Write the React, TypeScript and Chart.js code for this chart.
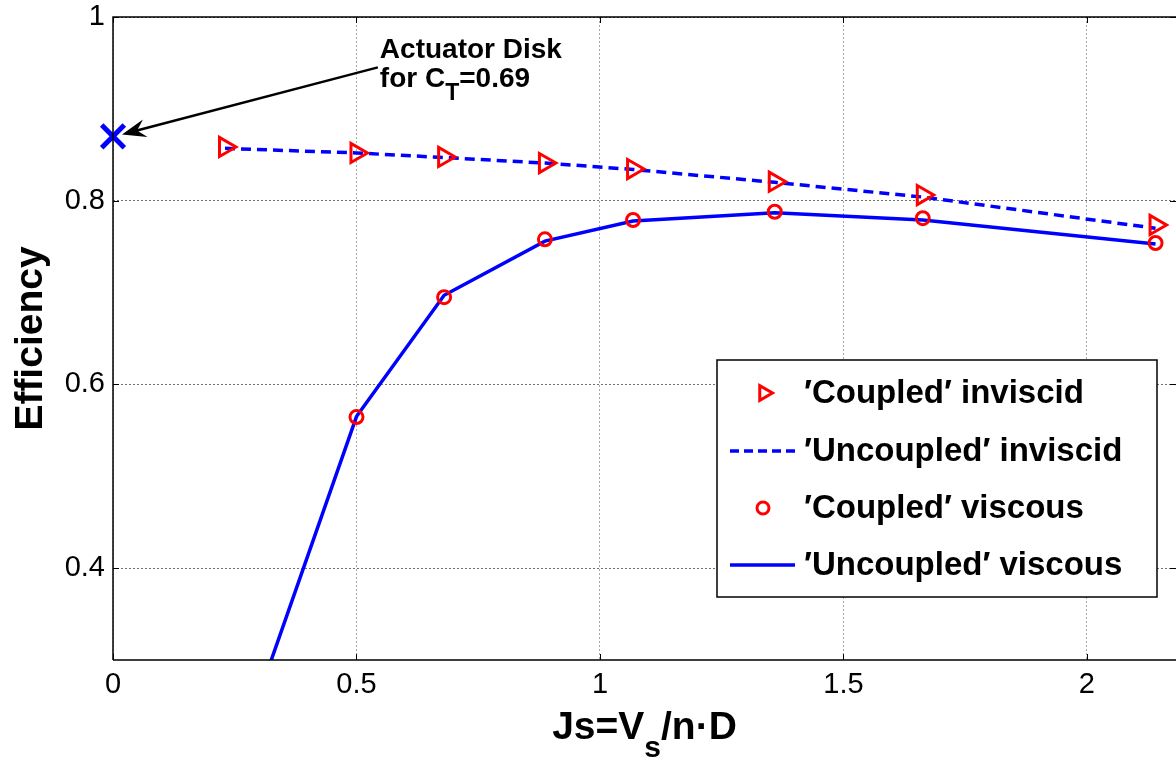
import React, { useEffect, useRef } from "react";
import { Chart, registerables } from "chart.js";

Chart.register(...registerables);

// ---- data ----
const jCoupledInviscid = [0.23, 0.5, 0.68, 0.887, 1.068, 1.359, 1.663, 2.141];
const effCoupledInviscid = [0.8585, 0.852, 0.8476, 0.841, 0.8345, 0.8207, 0.8062, 0.7736];

const jUncoupledInviscid = [0.23, 0.5, 0.68, 0.887, 1.068, 1.359, 1.663, 2.141];
const effUncoupledInviscid = [0.857, 0.852, 0.847, 0.841, 0.834, 0.82, 0.804, 0.77];

const jCoupledViscous = [0.5, 0.68, 0.887, 1.068, 1.359, 1.663, 2.141];
const effCoupledViscous = [0.5645, 0.695, 0.758, 0.779, 0.788, 0.781, 0.754];

const jUncoupledViscous = [0.23, 0.5, 0.68, 0.887, 1.068, 1.359, 1.663, 2.141];
const effUncoupledViscous = [0.156, 0.565, 0.697, 0.756, 0.778, 0.787, 0.779, 0.753];

const actuatorJ = [0];
const actuatorEff = [0.87];

const xTickValues = [0, 0.5, 1, 1.5, 2];
const yTickValues = [0.4, 0.6, 0.8, 1];
const xRange = [0, 2.183];
const yRange = [0.3, 1];

const legendLabels = [
  "\u2032Coupled\u2032 inviscid",
  "\u2032Uncoupled\u2032 inviscid",
  "\u2032Coupled\u2032 viscous",
  "\u2032Uncoupled\u2032 viscous",
];
const annotationLine1 = "Actuator Disk";
const annotationLine2 = ["for C", "T", "=0.69"];
const yTitle = "Efficiency";
const xTitleParts = ["Js=V", "s", "/n\u00B7D"];

const RED = "#ff0000";
const BLUE = "#0000ff";
const FONT = "'Liberation Sans', Arial, Helvetica, sans-serif";

const toPts = (xs: number[], ys: number[]) => xs.map((x, i) => ({ x, y: ys[i] }));

function drawTriangleRight(ctx: CanvasRenderingContext2D, x: number, y: number, r: number) {
  let rad = Math.PI / 2;
  ctx.beginPath();
  ctx.moveTo(x + Math.sin(rad) * r, y - Math.cos(rad) * r);
  rad += (2 * Math.PI) / 3;
  ctx.lineTo(x + Math.sin(rad) * r, y - Math.cos(rad) * r);
  rad += (2 * Math.PI) / 3;
  ctx.lineTo(x + Math.sin(rad) * r, y - Math.cos(rad) * r);
  ctx.closePath();
  ctx.stroke();
}

const framePlugin = {
  id: "framePlugin",
  afterDatasetsDraw(chart: any) {
    const ctx: CanvasRenderingContext2D = chart.ctx;
    const { left, right, top, bottom } = chart.chartArea;
    const xs = chart.scales.x;
    const ys = chart.scales.y;
    ctx.save();
    // frame
    ctx.strokeStyle = "#000";
    ctx.lineWidth = 1.5;
    ctx.beginPath();
    ctx.moveTo(left, bottom);
    ctx.lineTo(left, top);
    ctx.lineTo(right + 2, top);
    ctx.moveTo(left, bottom);
    ctx.lineTo(right + 2, bottom);
    ctx.stroke();
    // inward ticks
    ctx.lineWidth = 1;
    ctx.beginPath();
    xTickValues.forEach((v) => {
      const px = Math.round(xs.getPixelForValue(v)) + 0.5;
      ctx.moveTo(px, bottom);
      ctx.lineTo(px, bottom - 6);
      ctx.moveTo(px, top);
      ctx.lineTo(px, top + 6);
    });
    yTickValues.forEach((v) => {
      const py = Math.round(ys.getPixelForValue(v)) + 0.5;
      ctx.moveTo(left, py);
      ctx.lineTo(left + 6, py);
      ctx.moveTo(right, py);
      ctx.lineTo(right - 6, py);
    });
    ctx.stroke();

    // annotation text
    const tx = xs.getPixelForValue(0.548);
    const ty = ys.getPixelForValue(0.955);
    ctx.fillStyle = "#000";
    ctx.textAlign = "left";
    ctx.textBaseline = "alphabetic";
    ctx.font = `bold 28px ${FONT}`;
    ctx.fillText(annotationLine1, tx, ty);
    let cx = tx;
    const ty2 = ty + 29;
    ctx.fillText(annotationLine2[0], cx, ty2);
    cx += ctx.measureText(annotationLine2[0]).width;
    ctx.font = `bold 23px ${FONT}`;
    ctx.fillText(annotationLine2[1], cx, ty2 + 13);
    cx += ctx.measureText(annotationLine2[1]).width;
    ctx.font = `bold 28px ${FONT}`;
    ctx.fillText(annotationLine2[2], cx, ty2);

    // arrow
    const sx = tx - 2;
    const sy = ty + 9;
    const ex = xs.getPixelForValue(actuatorJ[0]) + 9;
    const ey = ys.getPixelForValue(actuatorEff[0]) - 2;
    const dx = ex - sx;
    const dy = ey - sy;
    const len = Math.hypot(dx, dy);
    const ux = dx / len;
    const uy = dy / len;
    const nx = -uy;
    const ny = ux;
    const L = 24;
    const W = 9;
    ctx.strokeStyle = "#000";
    ctx.lineWidth = 2.5;
    ctx.beginPath();
    ctx.moveTo(sx, sy);
    ctx.lineTo(ex - ux * L * 0.6, ey - uy * L * 0.6);
    ctx.stroke();
    ctx.beginPath();
    ctx.moveTo(ex, ey);
    ctx.lineTo(ex - ux * L + nx * W, ey - uy * L + ny * W);
    ctx.lineTo(ex - ux * L * 0.65, ey - uy * L * 0.65);
    ctx.lineTo(ex - ux * L - nx * W, ey - uy * L - ny * W);
    ctx.closePath();
    ctx.fillStyle = "#000";
    ctx.fill();

    // axis titles
    ctx.fillStyle = "#000";
    ctx.save();
    ctx.translate(31, (top + bottom) / 2);
    ctx.rotate(-Math.PI / 2);
    ctx.textAlign = "center";
    ctx.textBaseline = "middle";
    ctx.font = `bold 39px ${FONT}`;
    ctx.fillText(yTitle, 0, 0);
    ctx.restore();

    ctx.textAlign = "left";
    ctx.textBaseline = "alphabetic";
    ctx.font = `bold 39px ${FONT}`;
    const w0 = ctx.measureText(xTitleParts[0]).width;
    const w2 = ctx.measureText(xTitleParts[2]).width;
    ctx.font = `bold 30px ${FONT}`;
    const w1 = ctx.measureText(xTitleParts[1]).width;
    const total = w0 + w1 + w2;
    let xx = (left + right) / 2 - total / 2;
    const base = bottom + 79;
    ctx.font = `bold 39px ${FONT}`;
    ctx.fillText(xTitleParts[0], xx, base);
    xx += w0;
    ctx.font = `bold 30px ${FONT}`;
    ctx.fillText(xTitleParts[1], xx, base + 18);
    xx += w1;
    ctx.font = `bold 39px ${FONT}`;
    ctx.fillText(xTitleParts[2], xx, base);

    // legend box
    const bx = 717;
    const by = 360;
    const bw = 440;
    const bh = 237;
    ctx.fillStyle = "#fff";
    ctx.fillRect(bx, by, bw, bh);
    ctx.strokeStyle = "#000";
    ctx.lineWidth = 1.5;
    ctx.strokeRect(bx, by, bw, bh);
    const rows = [393, 451, 508, 565];
    ctx.font = `bold 33px ${FONT}`;
    ctx.textBaseline = "middle";
    rows.forEach((ry, i) => {
      if (i === 0) {
        ctx.strokeStyle = RED;
        ctx.lineWidth = 3;
        drawTriangleRight(ctx, 764, ry, 8.5);
      } else if (i === 1 || i === 3) {
        ctx.strokeStyle = BLUE;
        ctx.lineWidth = 3.5;
        ctx.setLineDash(i === 1 ? [9, 5] : []);
        ctx.beginPath();
        ctx.moveTo(730, ry);
        ctx.lineTo(795, ry);
        ctx.stroke();
        ctx.setLineDash([]);
      } else {
        ctx.strokeStyle = RED;
        ctx.lineWidth = 3;
        ctx.beginPath();
        ctx.arc(763, ry, 6, 0, Math.PI * 2);
        ctx.stroke();
      }
      ctx.fillStyle = "#000";
      ctx.fillText(legendLabels[i], 804, ry + 1);
    });
    ctx.restore();
  },
};

export default function App() {
  const canvasRef = useRef<HTMLCanvasElement | null>(null);

  useEffect(() => {
    const canvas = canvasRef.current;
    if (!canvas) return;
    Chart.defaults.font.family = FONT;
    const zeroPad = (scale: any) => {
      scale.paddingTop = 0;
      scale.paddingBottom = 0;
      scale.paddingLeft = 0;
      scale.paddingRight = 0;
    };
    const chart = new Chart(canvas, {
      type: "scatter",
      data: {
        datasets: [
          {
            label: legendLabels[0],
            data: toPts(jCoupledInviscid, effCoupledInviscid),
            showLine: false,
            pointStyle: "triangle",
            rotation: 90,
            radius: 11,
            borderWidth: 3,
            borderColor: RED,
            backgroundColor: "rgba(0,0,0,0)",
          },
          {
            label: legendLabels[1],
            data: toPts(jUncoupledInviscid, effUncoupledInviscid),
            showLine: true,
            borderColor: BLUE,
            borderWidth: 3.5,
            borderDash: [10, 6],
            pointRadius: 0,
            tension: 0,
          },
          {
            label: legendLabels[2],
            data: toPts(jCoupledViscous, effCoupledViscous),
            showLine: false,
            pointStyle: "circle",
            radius: 6.5,
            borderWidth: 3,
            borderColor: RED,
            backgroundColor: "rgba(0,0,0,0)",
          },
          {
            label: legendLabels[3],
            data: toPts(jUncoupledViscous, effUncoupledViscous),
            showLine: true,
            borderColor: BLUE,
            borderWidth: 3.5,
            pointRadius: 0,
            tension: 0,
          },
          {
            label: "Actuator Disk",
            data: toPts(actuatorJ, actuatorEff),
            showLine: false,
            pointStyle: "crossRot",
            radius: 16,
            borderWidth: 5,
            borderColor: BLUE,
            clip: false,
          } as any,
        ],
      },
      options: {
        animation: false,
        responsive: false,
        devicePixelRatio: 1,
        layout: { autoPadding: false, padding: { top: 17, right: 0, left: 0, bottom: 0 } },
        plugins: {
          legend: { display: false },
          tooltip: { enabled: false },
        },
        scales: {
          x: {
            type: "linear",
            min: xRange[0],
            max: xRange[1],
            afterBuildTicks: (scale: any) => {
              scale.ticks = xTickValues.map((v) => ({ value: v }));
            },
            afterFit: (scale: any) => {
              scale.height = 99;
              zeroPad(scale);
            },
            ticks: {
              color: "#000",
              font: { size: 29 },
              padding: 8,
              maxRotation: 0,
              autoSkip: false,
              callback: (v: any) => String(v),
            },
            grid: { color: "#a8a8a8", lineWidth: 1, drawTicks: false },
            border: { display: false, dash: [2, 2] },
          },
          y: {
            type: "linear",
            min: yRange[0],
            max: yRange[1],
            afterBuildTicks: (scale: any) => {
              scale.ticks = yTickValues.map((v) => ({ value: v }));
            },
            afterFit: (scale: any) => {
              scale.width = 113;
              zeroPad(scale);
            },
            ticks: {
              color: "#000",
              font: { size: 29 },
              padding: 8,
              autoSkip: false,
              callback: (v: any) => String(v),
            },
            grid: { color: "#707070", lineWidth: 1, drawTicks: false },
            border: { display: false, dash: [2, 2] },
          },
        },
      },
      plugins: [framePlugin],
    } as any);
    return () => chart.destroy();
  }, []);

  return (
    <div style={{ position: "fixed", left: 0, top: 0, width: 1176, height: 759, background: "#fff" }}>
      <canvas ref={canvasRef} width={1176} height={759} />
    </div>
  );
}
